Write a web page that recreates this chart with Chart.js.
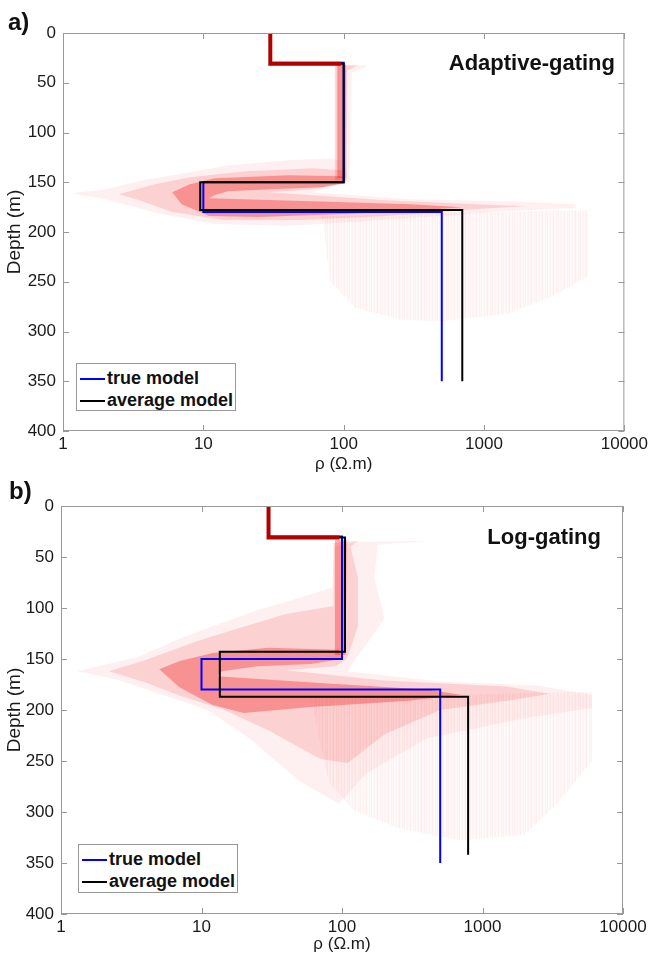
<!DOCTYPE html>
<html>
<head>
<meta charset="utf-8">
<script src="https://cdn.jsdelivr.net/npm/chart.js@4"></script>
<style>
  body { margin:0; background:#fff; width:651px; height:958px; overflow:hidden; position:relative;
         font-family:"Liberation Sans", Arial, sans-serif; color:#111; }
  canvas { position:absolute; left:0; }
  .tag { position:absolute; font-weight:bold; font-size:24px; line-height:24px; }
  .ttl { position:absolute; font-weight:bold; font-size:22px; line-height:26px; }
  .leg { position:absolute; border:1px solid #999; background:#fff; box-sizing:border-box;
         font-weight:bold; font-size:18px; line-height:22px; padding:3px 0 0 3px; }
  .leg i { display:inline-block; width:25px; height:2px; vertical-align:middle; margin-right:2px; }
</style>
</head>
<body>
<canvas id="chartA" width="651" height="478" style="top:0"></canvas>
<canvas id="chartB" width="651" height="485" style="top:473px"></canvas>

<div class="tag" style="left:8px;top:10px">a)</div>
<div class="tag" style="left:9px;top:479px">b)</div>
<div class="ttl" style="right:36px;top:50px">Adaptive-gating</div>
<div class="ttl" style="right:50px;top:524px">Log-gating</div>

<div class="leg" style="left:76px;top:363px;width:160px;height:48px">
  <div><i style="background:#0000ff"></i>true model</div>
  <div><i style="background:#000"></i>average model</div>
</div>
<div class="leg" style="left:78px;top:844px;width:160px;height:49px">
  <div><i style="background:#0000ff"></i>true model</div>
  <div><i style="background:#000"></i>average model</div>
</div>

<script>
const FONT = "'Liberation Sans', Arial, sans-serif";

// axes
const rhoTicks = [1, 10, 100, 1000, 10000];
const depthTicks = [0, 50, 100, 150, 200, 250, 300, 350, 400];

// true model (same in both panels)
const trueRho   = [30, 30, 100, 100, 10, 10, 500, 500];
const trueDepth = [0, 30, 30, 150, 150, 180, 180, 350];

// average models
const avgRhoA   = [30, 30, 100, 100, 9.5, 9.5, 700, 700];
const avgDepthA = [0, 31, 31, 150, 150, 178, 178, 350];
const avgRhoB   = [30, 30, 105, 105, 13.5, 13.5, 790, 790];
const avgDepthB = [0, 31, 31, 143, 143, 187, 187, 342];

// dense bundle of accepted models in the first layer
const topRho   = [30, 30, 96];
const topDepth = [0, 31, 31];

// envelopes of the model ensemble, [rho, depth]
const cloudA_streak = [
  [[70,184],[5500,178],[5500,245],[3000,265],[1500,282],[500,290],[250,288],[120,276],[80,250]]
];
const cloudA_faint = [
  [[1.15,161],[2,157],[3.7,148],[8,140],[15,133],[40,128],[80,126],[100,129],[106,140],[104,150],[60,160],
   [300,167],[1500,169],[4500,172],[4500,176],[1500,179],[600,183],[150,189],[40,194],[12,192],[5,182],[2,167]],
  [[86,31],[150,33],[114,40],[112,100],[110,150],[86,150]]
];
const cloudA_mid = [
  [[2.5,162],[4.5,152],[8,145],[20,139],[60,136],[100,138],[104,150],[60,157],[30,160],[200,168],[900,172],
   [2000,174],[900,177],[500,180],[200,184],[50,188],[14,188],[6,180],[3.5,168]],
  [[87,32],[125,33],[106,38],[105,148],[87,148]]
];
const cloudA_dense = [
  [[6,160],[8,152],[12,146],[40,143],[100,144],[102,151],[70,155],[30,157],[15,159],[12,163],[11,166],
   [60,169],[300,172],[700,175],[300,179],[100,182],[25,185],[11,184],[7,172]],
  [[90,32],[104,32],[103,146],[90,146]]
];

const cloudB_streak = [
  [[60,188],[6000,182],[6000,250],[3500,290],[2000,322],[700,328],[250,316],[120,298],[80,270]]
];
const cloudB_faint = [
  [[1.3,162],[2,156],[3.5,148],[7,130],[12,118],[25,102],[45,92],[85,80],[88,40],[130,35],[430,34],[180,38],
   [170,70],[200,110],[160,130],[125,150],[110,162],[500,172],[2500,176],[6000,185],[6000,198],[2000,208],
   [400,228],[150,262],[95,292],[50,270],[22,228],[11,200],[5,184],[2.5,170]]
];
const cloudB_mid = [
  [[2.2,162],[4,151],[9,133],[18,120],[40,106],[87,98],[87,36],[130,34],[115,40],[130,70],[130,118],[115,140],
   [108,150],[90,157],[40,161],[200,171],[1500,177],[3000,184],[1500,191],[500,200],[200,224],[110,252],
   [70,248],[30,220],[14,199],[7,186],[4,173]]
];
const cloudB_dense = [
  [[89,33],[108,33],[106,146],[89,146]],
  [[5,160],[7,152],[12,144],[30,139],[95,141],[100,150],[60,155],[25,157],[14,162],[13,167],[80,174],
   [400,180],[700,185],[300,191],[60,197],[20,203],[12,195],[7,178]]
];

function xy(rhos, depths) { return rhos.map((r, i) => ({x: r, y: depths[i]})); }
function poly(p) { return p.map(q => ({x: q[0], y: q[1]})); }

function streakPattern(alphas) {
  const c = document.createElement('canvas');
  c.width = alphas.length; c.height = 4;
  const g = c.getContext('2d');
  alphas.forEach((a, i) => { g.fillStyle = 'rgba(235,0,0,' + a + ')'; g.fillRect(i, 0, 1, 4); });
  return g.createPattern(c, 'repeat');
}
const streaks = streakPattern([0.05,0.02,0.035,0.07,0.025,0.015,0.055,0.03,0.06,0.01,0.04]);

// box round the plot and inward ticks on all four sides
const frame = {
  id: 'frame',
  afterDatasetsDraw(chart) {
    const {ctx, chartArea: a, scales} = chart;
    ctx.save();
    ctx.strokeStyle = '#999';
    ctx.lineWidth = 1;
    ctx.strokeRect(a.left + 0.5, a.top + 0.5, a.right - a.left - 1, a.bottom - a.top - 1);
    ctx.beginPath();
    rhoTicks.forEach(v => {
      const px = Math.round(scales.x.getPixelForValue(v)) + 0.5;
      ctx.moveTo(px, a.bottom); ctx.lineTo(px, a.bottom - 6);
      ctx.moveTo(px, a.top); ctx.lineTo(px, a.top + 6);
    });
    depthTicks.forEach(v => {
      const py = Math.round(scales.y.getPixelForValue(v)) + 0.5;
      ctx.moveTo(a.left, py); ctx.lineTo(a.left + 6, py);
      ctx.moveTo(a.right, py); ctx.lineTo(a.right - 6, py);
    });
    ctx.stroke();
    ctx.restore();
  }
};

function fillSet(p, color, order) {
  return {data: poly(p), showLine: true, fill: 'shape', backgroundColor: color,
          borderWidth: 0, pointRadius: 0, tension: 0, order: order};
}
function lineSet(pts, color, width, order) {
  return {data: pts, showLine: true, fill: false, borderColor: color, borderWidth: width,
          pointRadius: 0, tension: 0, order: order};
}

function buildPanel(id, area, h, avg, clouds) {
  const datasets = [
    lineSet(xy(topRho, topDepth), '#b00000', 4, 0),
    lineSet(avg, '#000', 2, 1),
    lineSet(xy(trueRho, trueDepth), '#0000ff', 2, 2)
  ];
  clouds.streak.forEach(p => datasets.push(fillSet(p, streaks, 9)));
  clouds.faint.forEach(p => datasets.push(fillSet(p, 'rgba(240,0,0,0.06)', 8)));
  clouds.mid.forEach(p => datasets.push(fillSet(p, 'rgba(240,0,0,0.13)', 7)));
  clouds.dense.forEach(p => datasets.push(fillSet(p, 'rgba(240,0,0,0.30)', 6)));

  const tickFont = {size: 17, family: FONT};
  new Chart(document.getElementById(id), {
    type: 'scatter',
    data: {datasets},
    options: {
      responsive: false,
      animation: false,
      events: [],
      layout: {padding: {left: 0, top: area.top, right: 651 - area.right, bottom: 0}},
      plugins: {legend: {display: false}, tooltip: {enabled: false}},
      scales: {
        x: {
          type: 'logarithmic', min: 1, max: 10000,
          grid: {display: false, drawTicks: false}, border: {display: false},
          afterBuildTicks: s => { s.ticks = rhoTicks.map(v => ({value: v})); },
          afterFit: s => { s.height = h - area.bottom; },
          ticks: {autoSkip: false, maxRotation: 0, padding: 3, color: '#1a1a1a', font: tickFont,
                  callback: v => String(v)},
          title: {display: true, text: 'ρ (Ω.m)', color: '#1a1a1a', font: tickFont,
                  padding: {top: 0, bottom: 3}}
        },
        y: {
          type: 'linear', reverse: true, min: 0, max: 400,
          grid: {display: false, drawTicks: false}, border: {display: false},
          afterBuildTicks: s => { s.ticks = depthTicks.map(v => ({value: v})); },
          afterFit: s => { s.width = area.left; },
          ticks: {padding: 7, color: '#1a1a1a', font: tickFont},
          title: {display: true, text: 'Depth (m)', color: '#1a1a1a', font: {size: 19, family: FONT},
                  padding: {top: 3, bottom: 0}}
        }
      }
    },
    plugins: [frame]
  });
}

buildPanel('chartA', {left: 63, top: 33, right: 625, bottom: 431}, 478, xy(avgRhoA, avgDepthA),
  {streak: cloudA_streak, faint: cloudA_faint, mid: cloudA_mid, dense: cloudA_dense});
buildPanel('chartB', {left: 61, top: 33, right: 623, bottom: 441}, 485, xy(avgRhoB, avgDepthB),
  {streak: cloudB_streak, faint: cloudB_faint, mid: cloudB_mid, dense: cloudB_dense});
</script>
</body>
</html>
